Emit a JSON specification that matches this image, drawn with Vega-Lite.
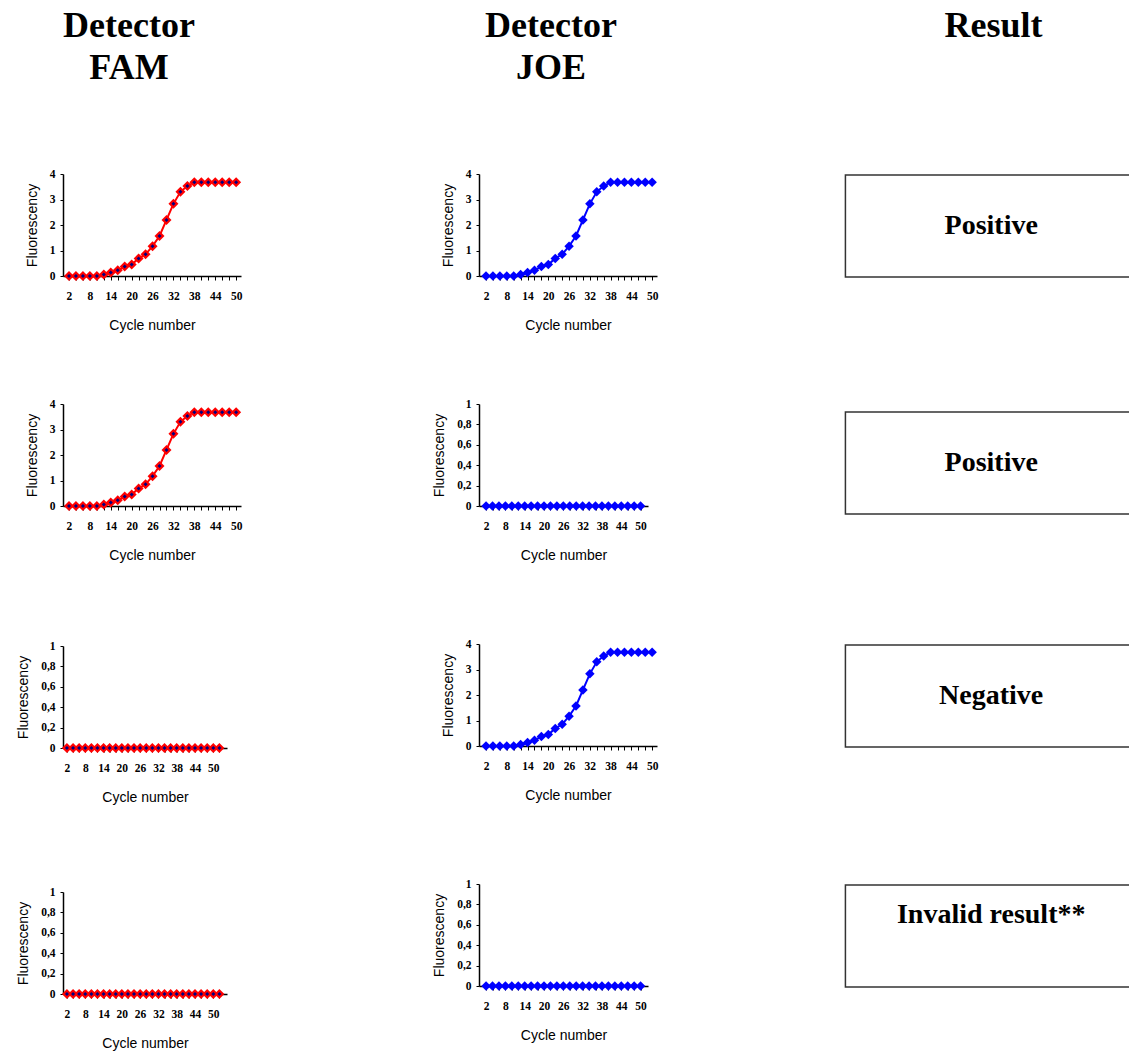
{
  "$schema": "https://vega.github.io/schema/vega-lite/v6.json",
  "padding": {"left": 16, "top": 8, "right": 0, "bottom": 0},
  "background": "white",
  "datasets": {
    "sig": [
      {"cycle": 2, "f": 0}, {"cycle": 4, "f": 0}, {"cycle": 6, "f": 0}, {"cycle": 8, "f": 0},
      {"cycle": 10, "f": 0}, {"cycle": 12, "f": 0.06}, {"cycle": 14, "f": 0.14}, {"cycle": 16, "f": 0.23},
      {"cycle": 18, "f": 0.37}, {"cycle": 20, "f": 0.45}, {"cycle": 22, "f": 0.69}, {"cycle": 24, "f": 0.85},
      {"cycle": 26, "f": 1.17}, {"cycle": 28, "f": 1.57}, {"cycle": 30, "f": 2.2}, {"cycle": 32, "f": 2.83},
      {"cycle": 34, "f": 3.3}, {"cycle": 36, "f": 3.53}, {"cycle": 38, "f": 3.68}, {"cycle": 40, "f": 3.68},
      {"cycle": 42, "f": 3.68}, {"cycle": 44, "f": 3.68}, {"cycle": 46, "f": 3.68}, {"cycle": 48, "f": 3.68},
      {"cycle": 50, "f": 3.68}
    ],
    "flatA": [
      {"cycle": 2, "f": 0}, {"cycle": 4, "f": 0}, {"cycle": 6, "f": 0}, {"cycle": 8, "f": 0},
      {"cycle": 10, "f": 0}, {"cycle": 12, "f": 0}, {"cycle": 14, "f": 0}, {"cycle": 16, "f": 0},
      {"cycle": 18, "f": 0}, {"cycle": 20, "f": 0}, {"cycle": 22, "f": 0}, {"cycle": 24, "f": 0},
      {"cycle": 26, "f": 0}, {"cycle": 28, "f": 0}, {"cycle": 30, "f": 0}, {"cycle": 32, "f": 0},
      {"cycle": 34, "f": 0}, {"cycle": 36, "f": 0}, {"cycle": 38, "f": 0}, {"cycle": 40, "f": 0},
      {"cycle": 42, "f": 0}, {"cycle": 44, "f": 0}, {"cycle": 46, "f": 0}, {"cycle": 48, "f": 0},
      {"cycle": 50, "f": 0}, {"cycle": 52, "f": 0}
    ],
    "flatB": [
      {"cycle": 2, "f": 0}, {"cycle": 4, "f": 0}, {"cycle": 6, "f": 0}, {"cycle": 8, "f": 0},
      {"cycle": 10, "f": 0}, {"cycle": 12, "f": 0}, {"cycle": 14, "f": 0}, {"cycle": 16, "f": 0},
      {"cycle": 18, "f": 0}, {"cycle": 20, "f": 0}, {"cycle": 22, "f": 0}, {"cycle": 24, "f": 0},
      {"cycle": 26, "f": 0}, {"cycle": 28, "f": 0}, {"cycle": 30, "f": 0}, {"cycle": 32, "f": 0},
      {"cycle": 34, "f": 0}, {"cycle": 36, "f": 0}, {"cycle": 38, "f": 0}, {"cycle": 40, "f": 0},
      {"cycle": 42, "f": 0}, {"cycle": 44, "f": 0}, {"cycle": 46, "f": 0}, {"cycle": 48, "f": 0},
      {"cycle": 50, "f": 0}
    ]
  },
  "hconcat": [
    {
      "vconcat": [
        {
          "title": {"text": ["Detector", "FAM"], "offset": 81, "dx": -23},
          "width": 178, "height": 102,
          "data": {"name": "sig"},
          "encoding": {
            "x": {"field": "cycle", "type": "quantitative", "scale": {"domain": [0.28, 51.4], "nice": false, "zero": false},
                  "axis": {"title": "Cycle number", "values": [2,4,6,8,10,12,14,16,18,20,22,24,26,28,30,32,34,36,38,40,42,44,46,48,50], "labelExpr": "(datum.value-2)%6==0 ? datum.label : ''"}},
            "y": {"field": "f", "type": "quantitative", "scale": {"domain": [0, 4], "nice": false},
                  "axis": {"title": "Fluorescency", "values": [0,1,2,3,4]}}
          },
          "layer": [
            {"mark": {"type": "line", "color": "#FF0000", "strokeWidth": 2}},
            {"mark": {"type": "point", "shape": "diamond", "filled": true, "color": "#FF0000", "size": 100, "opacity": 1}},
            {"mark": {"type": "point", "shape": "diamond", "filled": true, "color": "#000080", "size": 16, "opacity": 1}}
          ]
        },
        {
          "vconcat": [
            {
              "width": 178, "height": 102,
              "data": {"name": "sig"},
              "encoding": {
                "x": {"field": "cycle", "type": "quantitative", "scale": {"domain": [0.28, 51.4], "nice": false, "zero": false},
                      "axis": {"title": "Cycle number", "values": [2,4,6,8,10,12,14,16,18,20,22,24,26,28,30,32,34,36,38,40,42,44,46,48,50], "labelExpr": "(datum.value-2)%6==0 ? datum.label : ''"}},
                "y": {"field": "f", "type": "quantitative", "scale": {"domain": [0, 4], "nice": false},
                      "axis": {"title": "Fluorescency", "values": [0,1,2,3,4]}}
              },
              "layer": [
                {"mark": {"type": "line", "color": "#FF0000", "strokeWidth": 2}},
                {"mark": {"type": "point", "shape": "diamond", "filled": true, "color": "#FF0000", "size": 100, "opacity": 1}},
                {"mark": {"type": "point", "shape": "diamond", "filled": true, "color": "#000080", "size": 16, "opacity": 1}}
              ]
            },
            {
              "vconcat": [
                {
                  "width": 164, "height": 102,
                  "data": {"name": "flatA"},
                  "encoding": {
                    "x": {"field": "cycle", "type": "quantitative", "scale": {"domain": [0.7, 54.5], "nice": false, "zero": false},
                          "axis": {"title": "Cycle number", "values": [2,4,6,8,10,12,14,16,18,20,22,24,26,28,30,32,34,36,38,40,42,44,46,48,50,52], "labelExpr": "(datum.value-2)%6==0 && datum.value<=50 ? datum.label : ''"}},
                    "y": {"field": "f", "type": "quantitative", "scale": {"domain": [0, 1], "nice": false},
                          "axis": {"title": "Fluorescency", "values": [0,0.2,0.4,0.6,0.8,1], "labelExpr": "replace(format(datum.value, '~g'), '.', ',')"}}
                  },
                  "layer": [
                    {"mark": {"type": "line", "color": "#FF0000", "strokeWidth": 2}},
                    {"mark": {"type": "point", "shape": "diamond", "filled": true, "color": "#FF0000", "size": 100, "opacity": 1}},
                    {"mark": {"type": "point", "shape": "diamond", "filled": true, "color": "#000080", "size": 16, "opacity": 1}}
                  ]
                },
                {
                  "width": 164, "height": 102,
                  "data": {"name": "flatA"},
                  "encoding": {
                    "x": {"field": "cycle", "type": "quantitative", "scale": {"domain": [0.7, 54.5], "nice": false, "zero": false},
                          "axis": {"title": "Cycle number", "values": [2,4,6,8,10,12,14,16,18,20,22,24,26,28,30,32,34,36,38,40,42,44,46,48,50,52], "labelExpr": "(datum.value-2)%6==0 && datum.value<=50 ? datum.label : ''"}},
                    "y": {"field": "f", "type": "quantitative", "scale": {"domain": [0, 1], "nice": false},
                          "axis": {"title": "Fluorescency", "values": [0,0.2,0.4,0.6,0.8,1], "labelExpr": "replace(format(datum.value, '~g'), '.', ',')"}}
                  },
                  "layer": [
                    {"mark": {"type": "line", "color": "#FF0000", "strokeWidth": 2}},
                    {"mark": {"type": "point", "shape": "diamond", "filled": true, "color": "#FF0000", "size": 100, "opacity": 1}},
                    {"mark": {"type": "point", "shape": "diamond", "filled": true, "color": "#000080", "size": 16, "opacity": 1}}
                  ]
                }
              ],
              "spacing": 81
            }
          ],
          "spacing": 77
        }
      ],
      "spacing": 65
    },
    {
      "hconcat": [
        {
          "vconcat": [
            {
              "title": {"text": ["Detector", "JOE"], "offset": 81, "dx": -17},
              "width": 178, "height": 102,
              "data": {"name": "sig"},
              "encoding": {
                "x": {"field": "cycle", "type": "quantitative", "scale": {"domain": [-0.03, 51.4], "nice": false, "zero": false},
                      "axis": {"title": "Cycle number", "values": [2,4,6,8,10,12,14,16,18,20,22,24,26,28,30,32,34,36,38,40,42,44,46,48,50], "labelExpr": "(datum.value-2)%6==0 ? datum.label : ''"}},
                "y": {"field": "f", "type": "quantitative", "scale": {"domain": [0, 4], "nice": false},
                      "axis": {"title": "Fluorescency", "values": [0,1,2,3,4]}}
              },
              "layer": [
                {"mark": {"type": "line", "color": "#0000FF", "strokeWidth": 2}},
                {"mark": {"type": "point", "shape": "diamond", "filled": true, "color": "#0000FF", "size": 90, "opacity": 1}}
              ]
            },
            {
              "vconcat": [
                {
                  "width": 169, "height": 102,
                  "data": {"name": "flatB"},
                  "encoding": {
                    "x": {"field": "cycle", "type": "quantitative", "scale": {"domain": [-0.2, 52.3], "nice": false, "zero": false},
                          "axis": {"title": "Cycle number", "values": [2,4,6,8,10,12,14,16,18,20,22,24,26,28,30,32,34,36,38,40,42,44,46,48,50], "labelExpr": "(datum.value-2)%6==0 ? datum.label : ''"}},
                    "y": {"field": "f", "type": "quantitative", "scale": {"domain": [0, 1], "nice": false},
                          "axis": {"title": "Fluorescency", "values": [0,0.2,0.4,0.6,0.8,1], "labelExpr": "replace(format(datum.value, '~g'), '.', ',')"}}
                  },
                  "layer": [
                    {"mark": {"type": "line", "color": "#0000FF", "strokeWidth": 2}},
                    {"mark": {"type": "point", "shape": "diamond", "filled": true, "color": "#0000FF", "size": 90, "opacity": 1}}
                  ]
                },
                {
                  "width": 178, "height": 102,
                  "data": {"name": "sig"},
                  "encoding": {
                    "x": {"field": "cycle", "type": "quantitative", "scale": {"domain": [-0.03, 51.4], "nice": false, "zero": false},
                          "axis": {"title": "Cycle number", "values": [2,4,6,8,10,12,14,16,18,20,22,24,26,28,30,32,34,36,38,40,42,44,46,48,50], "labelExpr": "(datum.value-2)%6==0 ? datum.label : ''"}},
                    "y": {"field": "f", "type": "quantitative", "scale": {"domain": [0, 4], "nice": false},
                          "axis": {"title": "Fluorescency", "values": [0,1,2,3,4]}}
                  },
                  "layer": [
                    {"mark": {"type": "line", "color": "#0000FF", "strokeWidth": 2}},
                    {"mark": {"type": "point", "shape": "diamond", "filled": true, "color": "#0000FF", "size": 90, "opacity": 1}}
                  ]
                },
                {
                  "width": 169, "height": 102,
                  "data": {"name": "flatB"},
                  "encoding": {
                    "x": {"field": "cycle", "type": "quantitative", "scale": {"domain": [-0.2, 52.3], "nice": false, "zero": false},
                          "axis": {"title": "Cycle number", "values": [2,4,6,8,10,12,14,16,18,20,22,24,26,28,30,32,34,36,38,40,42,44,46,48,50], "labelExpr": "(datum.value-2)%6==0 ? datum.label : ''"}},
                    "y": {"field": "f", "type": "quantitative", "scale": {"domain": [0, 1], "nice": false},
                          "axis": {"title": "Fluorescency", "values": [0,0.2,0.4,0.6,0.8,1], "labelExpr": "replace(format(datum.value, '~g'), '.', ',')"}}
                  },
                  "layer": [
                    {"mark": {"type": "line", "color": "#0000FF", "strokeWidth": 2}},
                    {"mark": {"type": "point", "shape": "diamond", "filled": true, "color": "#0000FF", "size": 90, "opacity": 1}}
                  ]
                }
              ],
              "spacing": 75
            }
          ],
          "spacing": 65
        },
        {
          "vconcat": [
            {
              "title": {"text": "Result", "offset": 129, "dx": 7},
              "width": 285, "height": 104,
              "data": {"values": [{"result": "Positive"}]},
              "layer": [
                {"mark": {"type": "rect", "fill": "white", "fillOpacity": 0, "stroke": "#333333", "strokeWidth": 1.5, "clip": true},
                 "encoding": {"x": {"datum": 0, "type": "quantitative", "scale": {"domain": [-0.005, 1], "nice": false, "zero": false}, "axis": null}, "x2": {"datum": 1.2},
                              "y": {"datum": 0, "type": "quantitative", "scale": {"domain": [-0.01, 1.01], "nice": false, "zero": false}, "axis": null}, "y2": {"datum": 1}}},
                {"mark": {"type": "text", "font": "Liberation Serif", "fontWeight": "bold", "fontSize": 28, "baseline": "middle", "dx": 4, "color": "black"},
                 "encoding": {"text": {"field": "result"}, "x": {"datum": 0.5, "type": "quantitative"}, "y": {"datum": 0.5, "type": "quantitative"}}}
              ]
            },
            {
              "vconcat": [
                {
                  "width": 285, "height": 104,
                  "data": {"values": [{"result": "Positive"}]},
                  "layer": [
                    {"mark": {"type": "rect", "fill": "white", "fillOpacity": 0, "stroke": "#333333", "strokeWidth": 1.5, "clip": true},
                     "encoding": {"x": {"datum": 0, "type": "quantitative", "scale": {"domain": [-0.005, 1], "nice": false, "zero": false}, "axis": null}, "x2": {"datum": 1.2},
                                  "y": {"datum": 0, "type": "quantitative", "scale": {"domain": [-0.01, 1.01], "nice": false, "zero": false}, "axis": null}, "y2": {"datum": 1}}},
                    {"mark": {"type": "text", "font": "Liberation Serif", "fontWeight": "bold", "fontSize": 28, "baseline": "middle", "dx": 4, "color": "black"},
                     "encoding": {"text": {"field": "result"}, "x": {"datum": 0.5, "type": "quantitative"}, "y": {"datum": 0.5, "type": "quantitative"}}}
                  ]
                },
                {
                  "vconcat": [
                    {
                      "width": 285, "height": 104,
                      "data": {"values": [{"result": "Negative"}]},
                      "layer": [
                        {"mark": {"type": "rect", "fill": "white", "fillOpacity": 0, "stroke": "#333333", "strokeWidth": 1.5, "clip": true},
                         "encoding": {"x": {"datum": 0, "type": "quantitative", "scale": {"domain": [-0.005, 1], "nice": false, "zero": false}, "axis": null}, "x2": {"datum": 1.2},
                                      "y": {"datum": 0, "type": "quantitative", "scale": {"domain": [-0.01, 1.01], "nice": false, "zero": false}, "axis": null}, "y2": {"datum": 1}}},
                        {"mark": {"type": "text", "font": "Liberation Serif", "fontWeight": "bold", "fontSize": 28, "baseline": "middle", "dx": 4, "color": "black"},
                         "encoding": {"text": {"field": "result"}, "x": {"datum": 0.5, "type": "quantitative"}, "y": {"datum": 0.5, "type": "quantitative"}}}
                      ]
                    },
                    {
                      "width": 285, "height": 104,
                      "data": {"values": [{"result": "Invalid result**"}]},
                      "layer": [
                        {"mark": {"type": "rect", "fill": "white", "fillOpacity": 0, "stroke": "#333333", "strokeWidth": 1.5, "clip": true},
                         "encoding": {"x": {"datum": 0, "type": "quantitative", "scale": {"domain": [-0.005, 1], "nice": false, "zero": false}, "axis": null}, "x2": {"datum": 1.2},
                                      "y": {"datum": 0, "type": "quantitative", "scale": {"domain": [-0.01, 1.01], "nice": false, "zero": false}, "axis": null}, "y2": {"datum": 1}}},
                        {"mark": {"type": "text", "font": "Liberation Serif", "fontWeight": "bold", "fontSize": 28, "baseline": "alphabetic", "dx": 4, "color": "black"},
                         "encoding": {"text": {"field": "result"}, "x": {"datum": 0.5, "type": "quantitative"}, "y": {"datum": 0.63, "type": "quantitative"}}}
                      ]
                    }
                  ],
                  "spacing": 136
                }
              ],
              "spacing": 129
            }
          ],
          "spacing": 133
        }
      ],
      "spacing": 186
    }
  ],
  "spacing": 190,
  "config": {
    "view": {"stroke": null},
    "title": {"font": "Liberation Serif", "fontSize": 36, "fontWeight": "bold", "lineHeight": 42, "color": "black", "anchor": "middle", "frame": "group", "baseline": "alphabetic"},
    "axis": {"grid": false, "domainColor": "black", "domainWidth": 1.5, "tickColor": "black", "tickWidth": 1,
             "labelFont": "Liberation Serif", "labelFontWeight": "bold", "labelFontSize": 11.5, "labelColor": "black",
             "labelFlush": false, "labelOverlap": false,
             "titleFont": "Liberation Sans", "titleFontWeight": "normal", "titleFontSize": 14, "titleColor": "black"},
    "axisX": {"labelPadding": 10, "titlePadding": 17, "tickSize": 4, "labelAngle": 0},
    "axisY": {"labelPadding": 5, "titlePadding": 10, "tickSize": 3}
  }
}
